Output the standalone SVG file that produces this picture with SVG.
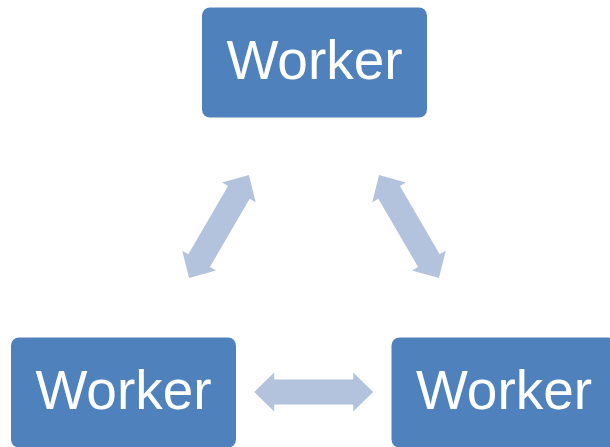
<svg xmlns="http://www.w3.org/2000/svg" width="610" height="447" viewBox="0 0 610 447">
  <style>
    .box { fill: #4F81BD; }
    .lbl { fill: #FFFFFF; font-family: "Liberation Sans", Arial, sans-serif; font-size: 55px; text-anchor: middle; }
    .arr { fill: #B3C3DE; }
  </style>
  <defs>
    <path id="dbl" d="M-59.5,0 L-39.5,-19.5 L-39.5,-12.5 L39.5,-12.5 L39.5,-19.5 L59.5,0 L39.5,19.5 L39.5,12.5 L-39.5,12.5 L-39.5,19.5 Z"/>
  </defs>
  <rect width="610" height="447" fill="#FFFFFF"/>
  <g id="connectors">
    <use href="#dbl" class="arr" transform="translate(219,226.5) rotate(-59.8)"/>
    <use href="#dbl" class="arr" transform="translate(409,226.5) rotate(59.8)"/>
    <use href="#dbl" class="arr" transform="translate(313.7,392)"/>
  </g>
  <g id="worker-top">
    <rect class="box" x="202" y="7.5" width="225" height="110" rx="8"/>
    <text class="lbl" x="314.5" y="79">Worker</text>
  </g>
  <g id="worker-left">
    <rect class="box" x="11" y="337.5" width="225" height="110" rx="8"/>
    <text class="lbl" x="123.5" y="409">Worker</text>
  </g>
  <g id="worker-right">
    <rect class="box" x="391.5" y="337.5" width="225" height="110" rx="8"/>
    <text class="lbl" x="504" y="409">Worker</text>
  </g>
</svg>
